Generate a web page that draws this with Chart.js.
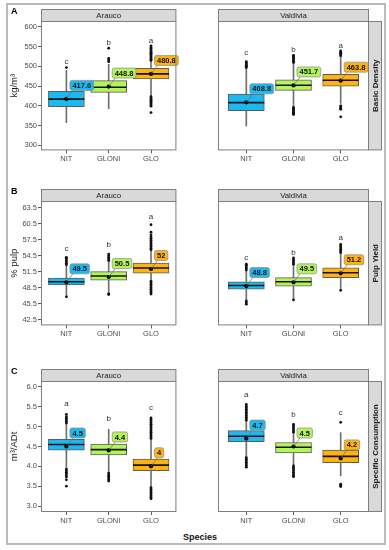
<!DOCTYPE html>
<html>
<head>
<meta charset="utf-8">
<title>Wood properties by species and site</title>
<script src="https://cdn.jsdelivr.net/npm/chart.js@4.4.1/dist/chart.umd.min.js"></script>
<style>
  body { margin:0; background:#fff; width:389px; height:550px; overflow:hidden; position:relative; font-family:'Liberation Sans', Arial, sans-serif; }
  #frame { position:absolute; left:6px; top:3px; width:380px; height:542px; box-sizing:border-box; border:2px solid #b9b9b9; }
  canvas { position:absolute; }
  #xtitle { position:absolute; left:150px; top:531px; width:100px; text-align:center; font-weight:bold; font-size:9px; line-height:12px; color:#111; }
</style>
</head>
<body>
<div id="frame"></div>
<div id="xtitle">Species</div>
<script>
var species = ['NIT', 'GLONI', 'GLO'];
var sites = ['Arauco', 'Valdivia'];
var fills = ['#1cb9f0', '#b4f35c', '#ffb310'];

// box stats per species: [low whisker, q1, median, q3, high whisker]
var densArauco = [[357, 398, 417, 437, 490], [393, 434, 447, 464, 505], [426, 468, 481, 495, 514]];
var densValdivia = [[349, 388, 408, 430, 495], [399, 439, 452, 466, 508], [406, 450, 465, 480, 525]];
var densAraucoMean = [417.6, 448.8, 480.8];
var densValdiviaMean = [408.8, 451.7, 463.8];
var densAraucoOut = [[497], [512, 516, 520, 546],
  [515, 518, 521, 524, 527, 530, 533, 536, 539, 542, 545, 548, 552, 383, 399, 402, 405, 408, 411, 414, 417, 420, 423]];
var densValdiviaOut = [[497, 500, 503, 506, 509, 512],
  [510, 513, 516, 519, 522, 525, 528, 378, 381, 384, 387, 390, 393, 396],
  [527, 530, 533, 536, 539, 391, 394, 397, 400, 372]];
var densAraucoLetters = ['c', 'b', 'a'];
var densAraucoLetterY = [512, 560, 565];
var densValdiviaLetters = ['c', 'b', 'a'];
var densValdiviaLetterY = [534, 543, 553];
var densTicks = [300, 350, 400, 450, 500, 550, 600];

var pulpArauco = [[47.2, 49.0, 49.6, 50.3, 52.5], [47.7, 49.9, 50.7, 51.5, 53.4], [49.8, 51.2, 52.2, 53.1, 55.4]];
var pulpValdivia = [[46.3, 48.2, 48.9, 49.6, 51.6], [46.4, 48.8, 49.6, 50.4, 52.7], [48.3, 50.4, 51.3, 52.2, 54.9]];
var pulpAraucoMean = [49.5, 50.5, 52];
var pulpValdiviaMean = [48.8, 49.5, 51.2];
var pulpAraucoOut = [[52.8, 53.1, 53.4, 53.7, 54.0, 54.2, 46.8], [53.6, 53.9, 54.2, 54.5, 54.8, 47.2, 47.4],
  [55.6, 55.9, 56.2, 56.5, 56.8, 57.1, 57.4, 57.7, 58.0, 58.4, 58.9, 60.3, 47.3, 47.6, 47.9, 48.2, 48.5, 48.8, 49.1, 49.4, 49.7]];
var pulpValdiviaOut = [[51.8, 52.1, 52.4, 52.7, 52.9, 45.4, 45.7, 46.0], [52.9, 53.2, 53.5, 53.8, 54.1, 46.2],
  [55.1, 55.4, 55.7, 56.0, 56.3, 56.6, 48.0]];
var pulpAraucoLetters = ['c', 'b', 'a'];
var pulpAraucoLetterY = [55.7, 56.5, 61.8];
var pulpValdiviaLetters = ['c', 'b', 'a'];
var pulpValdiviaLetterY = [54.1, 55.1, 57.8];
var pulpTicks = [42.5, 45.5, 48.5, 51.5, 54.5, 57.5, 60.5, 63.5];

var consArauco = [[3.97, 4.41, 4.55, 4.68, 5.06], [3.86, 4.29, 4.42, 4.56, 4.93], [3.49, 3.89, 4.03, 4.18, 4.66]];
var consValdivia = [[4.25, 4.62, 4.76, 4.90, 5.13], [4.04, 4.34, 4.48, 4.60, 4.83], [3.76, 4.09, 4.25, 4.41, 4.85]];
var consAraucoMean = [4.5, 4.4, 4];
var consValdiviaMean = [4.7, 4.5, 4.2];
var consAraucoOut = [[5.09, 5.13, 5.17, 5.21, 5.25, 5.31, 3.93, 3.89, 3.85, 3.81, 3.77, 3.73, 3.66, 3.50],
  [3.83, 3.79, 3.75, 3.71, 3.67, 3.63],
  [4.70, 4.74, 4.78, 4.82, 4.86, 4.90, 4.94, 4.98, 5.02, 5.06, 5.10, 5.14, 5.18, 5.22, 3.46, 3.42, 3.38, 3.34, 3.30, 3.26, 3.22, 3.18]];
var consValdiviaOut = [[5.16, 5.20, 5.24, 5.28, 5.32, 5.36, 5.40, 5.44, 5.48, 5.52, 5.56, 4.22, 4.18, 4.14, 4.10, 4.06, 4.02, 3.98],
  [4.86, 4.90, 4.94, 4.98, 5.02, 5.06, 4.01, 3.97, 3.93, 3.89, 3.85, 3.81, 3.77, 3.74],
  [5.11, 3.55, 3.52, 3.49]];
var consAraucoLetters = ['a', 'b', 'c'];
var consAraucoLetterY = [5.57, 5.19, 5.48];
var consValdiviaLetters = ['a', 'b', 'c'];
var consValdiviaLetterY = [5.81, 5.31, 5.35];
var consTicks = [3.0, 3.5, 4.0, 4.5, 5.0, 5.5, 6.0];

var fam = "'Liberation Sans', Arial, sans-serif";

var rows = [
  { key: 'dens', top: 0, h: 170, padTop: 21, xH: 19, min: 287, max: 615, ticks: densTicks, dec: 0, title: 'kg/m³', strip: 'Basic Density', tag: 'A' },
  { key: 'pulp', top: 170, h: 175, padTop: 31, xH: 13, min: 41.43, max: 64.75, ticks: pulpTicks, dec: 1, title: '% pulp', strip: 'Pulp Yield', tag: 'B' },
  { key: 'cons', top: 345, h: 200, padTop: 36, xH: 33, min: 2.849, max: 6.151, ticks: consTicks, dec: 1, title: 'm³/ADt', strip: 'Specific Consumption', tag: 'C' }
];

function addCanvas(id, left, top, w, h) {
  var c = document.createElement('canvas');
  c.id = id;
  c.width = w;
  c.height = h;
  c.style.left = left + 'px';
  c.style.top = top + 'px';
  c.style.width = w + 'px';
  c.style.height = h + 'px';
  document.body.appendChild(c);
  return c;
}

function facet(row, side, means, letters, letterY) {
  return {
    id: 'facet' + row.key + side,
    afterDatasetsDraw: function(chart) {
      var ctx = chart.ctx, xs = chart.scales.x, ys = chart.scales.y;
      ctx.save();
      ctx.textAlign = 'center';
      ctx.textBaseline = 'middle';
      ctx.font = '8px ' + fam;
      ctx.fillStyle = '#333';
      letters.forEach(function(l, i) {
        ctx.fillText(l, xs.getPixelForValue(i + 1), ys.getPixelForValue(letterY[i]));
      });
      // mean labels with a short leader
      ctx.font = 'bold 7.5px ' + fam;
      means.forEach(function(m, i) {
        var mx = xs.getPixelForValue(i + 1), my = ys.getPixelForValue(m);
        var txt = String(m), w = ctx.measureText(txt).width + 5, h = 10;
        var bx = mx + 3.5, by = my - 8.5 - h;
        ctx.strokeStyle = '#6b6b6b';
        ctx.lineWidth = 0.7;
        ctx.beginPath();
        ctx.moveTo(mx, my);
        ctx.lineTo(bx + 3, by + h);
        ctx.stroke();
        ctx.beginPath();
        if (ctx.roundRect) ctx.roundRect(bx, by, w, h, 2); else ctx.rect(bx, by, w, h);
        ctx.fillStyle = fills[i];
        ctx.fill();
        ctx.strokeStyle = '#8a8a8a';
        ctx.stroke();
        ctx.fillStyle = '#111';
        ctx.fillText(txt, bx + w / 2, by + h / 2 + 0.5);
      });
      ctx.restore();
    },
    afterDraw: function(chart) {
      var ctx = chart.ctx, a = chart.chartArea;
      ctx.save();
      ctx.strokeStyle = '#7f7f7f';
      ctx.lineWidth = 1;
      ctx.strokeRect(a.left + 0.5, a.top + 0.5, a.width - 1, a.height - 1);
      // strip on top
      ctx.fillStyle = '#d9d9d9';
      ctx.fillRect(a.left + 0.5, a.top - 12 + 0.5, a.width - 1, 12);
      ctx.strokeRect(a.left + 0.5, a.top - 12 + 0.5, a.width - 1, 12);
      ctx.fillStyle = '#1a1a1a';
      ctx.font = '7.8px ' + fam;
      ctx.textAlign = 'center';
      ctx.textBaseline = 'middle';
      ctx.fillText(sites[side], (a.left + a.right) / 2, a.top - 5.5);
      if (side === 1) {
        ctx.fillStyle = '#d9d9d9';
        ctx.fillRect(a.right - 0.5, a.top + 0.5, 13, a.height - 1);
        ctx.strokeRect(a.right - 0.5, a.top + 0.5, 13, a.height - 1);
        ctx.fillStyle = '#1a1a1a';
        ctx.font = 'bold 8px ' + fam;
        ctx.translate(a.right + 6.5, (a.top + a.bottom) / 2);
        ctx.rotate(-Math.PI / 2);
        ctx.fillText(row.strip, 0, 0);
      } else {
        ctx.fillStyle = '#000';
        ctx.font = 'bold 9px ' + fam;
        ctx.textAlign = 'left';
        ctx.fillText(row.tag, 11, a.top - 9);
      }
      ctx.restore();
    }
  };
}

function drawPanel(row, side, stats, means, outs, letters, letterY) {
  var isLeft = side === 0;
  var c = addCanvas(row.key + side, isLeft ? 0 : 196, row.top, isLeft ? 196 : 193, row.h);
  var outPts = [];
  outs.forEach(function(list, i) {
    list.forEach(function(v) { outPts.push({ x: i + 1, y: v }); });
  });
  var tickFont = { size: 7.5, family: fam };
  new Chart(c, {
    type: 'bar',
    data: {
      datasets: [
        { type: 'bar', data: stats.map(function(s, i) { return { x: i + 1, y: [s[0], s[4]] }; }),
          backgroundColor: '#707070', borderWidth: 0, barThickness: 1, grouped: false, order: 5 },
        { type: 'bar', data: stats.map(function(s, i) { return { x: i + 1, y: [s[1], s[3]] }; }),
          backgroundColor: fills, borderColor: '#5c5c5c', borderWidth: 1, borderSkipped: false,
          barThickness: 36, grouped: false, order: 4 },
        { type: 'scatter', data: stats.map(function(s, i) { return { x: i + 1, y: s[2] }; }),
          pointStyle: 'line', pointRadius: 18, pointBorderColor: '#151515', pointBorderWidth: 1.6, order: 3 },
        { type: 'scatter', data: outPts, pointRadius: 1.4, pointBackgroundColor: '#111',
          pointBorderWidth: 0, order: 2 },
        { type: 'scatter', data: means.map(function(m, i) { return { x: i + 1, y: m }; }),
          pointRadius: 2.1, pointBackgroundColor: '#000', pointBorderWidth: 0, order: 1 }
      ]
    },
    options: {
      responsive: false,
      animation: false,
      events: [],
      layout: { padding: { top: row.padTop, left: isLeft ? 0 : 22, right: isLeft ? 4 : 20, bottom: 0 } },
      plugins: { legend: { display: false }, tooltip: { enabled: false } },
      scales: {
        x: {
          type: 'linear', min: 0.4, max: 3.6, offset: false,
          afterBuildTicks: function(s) { s.ticks = species.map(function(n, i) { return { value: i + 1 }; }); },
          afterFit: function(s) { s.height = row.xH; },
          ticks: { callback: function(v) { return species[v - 1]; }, color: '#4d4d4d', font: tickFont,
            padding: 1, maxRotation: 0, autoSkip: false },
          grid: { drawOnChartArea: false, tickLength: 3, color: '#333', lineWidth: 0.8, offset: false },
          border: { display: false }
        },
        y: {
          display: isLeft, min: row.min, max: row.max,
          afterBuildTicks: function(s) { s.ticks = row.ticks.map(function(v) { return { value: v }; }); },
          afterFit: function(s) { s.width = isLeft ? 41 : 0; },
          ticks: { callback: function(v) { return v.toFixed(row.dec); }, color: '#4d4d4d', font: tickFont, padding: 1 },
          grid: { drawOnChartArea: false, tickLength: 3, color: '#333', lineWidth: 0.8 },
          border: { display: false },
          title: { display: true, text: row.title, color: '#1a1a1a', font: { size: 9.5, family: fam },
            padding: { top: 9, bottom: 0 } }
        }
      }
    },
    plugins: [facet(row, side, means, letters, letterY)]
  });
}

drawPanel(rows[0], 0, densArauco, densAraucoMean, densAraucoOut, densAraucoLetters, densAraucoLetterY);
drawPanel(rows[0], 1, densValdivia, densValdiviaMean, densValdiviaOut, densValdiviaLetters, densValdiviaLetterY);
drawPanel(rows[1], 0, pulpArauco, pulpAraucoMean, pulpAraucoOut, pulpAraucoLetters, pulpAraucoLetterY);
drawPanel(rows[1], 1, pulpValdivia, pulpValdiviaMean, pulpValdiviaOut, pulpValdiviaLetters, pulpValdiviaLetterY);
drawPanel(rows[2], 0, consArauco, consAraucoMean, consAraucoOut, consAraucoLetters, consAraucoLetterY);
drawPanel(rows[2], 1, consValdivia, consValdiviaMean, consValdiviaOut, consValdiviaLetters, consValdiviaLetterY);
</script>
</body>
</html>
